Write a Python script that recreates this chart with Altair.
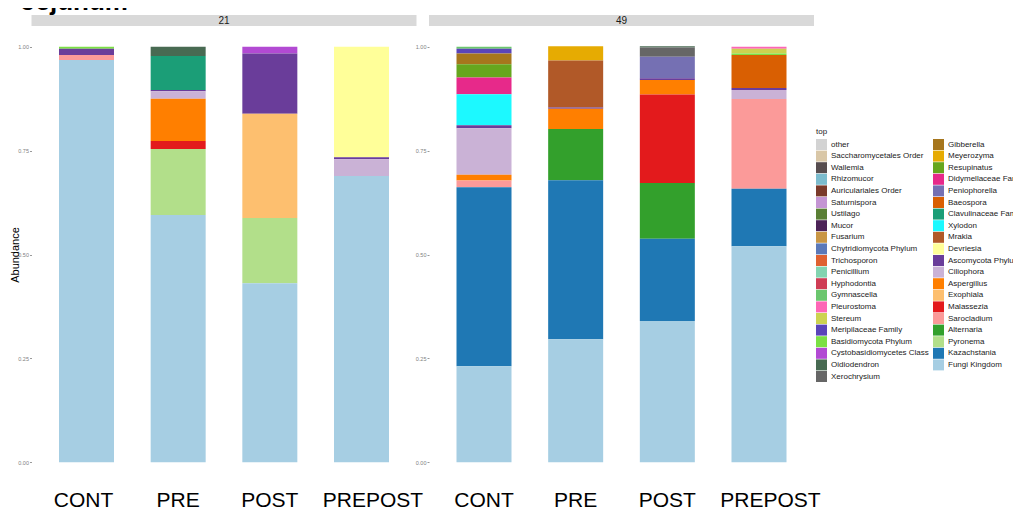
import altair as alt
import pandas as pd

# ---- legend (ggplot order: column 1 then column 2) ----
legend_col1 = ["other", "Saccharomycetales Order", "Wallemia", "Rhizomucor",
               "Auriculariales Order", "Saturnispora", "Ustilago", "Mucor",
               "Fusarium", "Chytridiomycota Phylum", "Trichosporon", "Penicillium",
               "Hyphodontia", "Gymnascella", "Pleurostoma", "Stereum",
               "Meripilaceae Family", "Basidiomycota Phylum",
               "Cystobasidiomycetes Class", "Oidiodendron", "Xerochrysium"]
colors_col1 = ["#D3D3D3", "#D9C7A7", "#574D4F", "#7CBCCE", "#7A3A2A", "#C495D3",
               "#5A7F35", "#4C2357", "#C99645", "#5B79B9", "#DF6131", "#82D4B0",
               "#CF3D55", "#6BC66E", "#FD66B6", "#CCD350", "#5A44B9", "#7BE044",
               "#B24AD3", "#486A52", "#666666"]
legend_col2 = ["Gibberella", "Meyerozyma", "Resupinatus", "Didymellaceae Family",
               "Peniophorella", "Baeospora", "Clavulinaceae Family", "Xylodon",
               "Mrakia", "Devriesia", "Ascomycota Phylum", "Ciliophora",
               "Aspergillus", "Exophiala", "Malassezia", "Sarocladium",
               "Alternaria", "Pyronema", "Kazachstania", "Fungi Kingdom"]
colors_col2 = ["#A6761D", "#E6AB02", "#66A61E", "#E7298A", "#7570B3", "#D95F02",
               "#1B9E77", "#1CF9FF", "#B15928", "#FFFF99", "#6A3D9A", "#CAB2D6",
               "#FF7F00", "#FDBF6F", "#E31A1C", "#FB9A99", "#33A02C", "#B2DF8A",
               "#1F78B4", "#A6CEE3"]

treatments = ["CONT", "PRE", "POST", "PREPOST"]
panels = ["21", "49"]

# ---- values ----
taxa_21_CONT = ["Basidiomycota Phylum", "Ascomycota Phylum", "Sarocladium", "Fungi Kingdom"]
vals_21_CONT = [0.005, 0.015, 0.012, 0.968]

taxa_21_PRE = ["Oidiodendron", "Clavulinaceae Family", "Ascomycota Phylum", "Ciliophora",
               "Aspergillus", "Malassezia", "Pyronema", "Fungi Kingdom"]
vals_21_PRE = [0.022, 0.082, 0.003, 0.018, 0.102, 0.019, 0.159, 0.595]

taxa_21_POST = ["Cystobasidiomycetes Class", "Ascomycota Phylum", "Exophiala",
                "Pyronema", "Fungi Kingdom"]
vals_21_POST = [0.016, 0.145, 0.251, 0.157, 0.431]

taxa_21_PREPOST = ["Devriesia", "Ascomycota Phylum", "Ciliophora", "Fungi Kingdom"]
vals_21_PREPOST = [0.266, 0.005, 0.040, 0.689]

taxa_49_CONT = ["Gymnascella", "Meripilaceae Family", "Gibberella", "Resupinatus",
                "Didymellaceae Family", "Xylodon", "Ascomycota Phylum", "Ciliophora",
                "Aspergillus", "Sarocladium", "Kazachstania", "Fungi Kingdom"]
vals_49_CONT = [0.005, 0.011, 0.026, 0.032, 0.040, 0.075, 0.007, 0.112,
                0.014, 0.016, 0.431, 0.231]

taxa_49_PRE = ["Meyerozyma", "Mrakia", "Ascomycota Phylum", "Aspergillus",
               "Alternaria", "Kazachstania", "Fungi Kingdom"]
vals_49_PRE = [0.034, 0.113, 0.003, 0.049, 0.123, 0.383, 0.296]

taxa_49_POST = ["Oidiodendron", "Xerochrysium", "Peniophorella", "Ascomycota Phylum",
                "Aspergillus", "Malassezia", "Alternaria", "Kazachstania", "Fungi Kingdom"]
vals_49_POST = [0.003, 0.022, 0.052, 0.004, 0.035, 0.213, 0.134, 0.198, 0.340]

taxa_49_PREPOST = ["Pleurostoma", "Stereum", "Basidiomycota Phylum", "Baeospora",
                   "Ascomycota Phylum", "Ciliophora", "Sarocladium", "Kazachstania",
                   "Fungi Kingdom"]
vals_49_PREPOST = [0.005, 0.011, 0.004, 0.079, 0.005, 0.022, 0.216, 0.138, 0.520]

samples = {
    ("21", "CONT"): (taxa_21_CONT, vals_21_CONT),
    ("21", "PRE"): (taxa_21_PRE, vals_21_PRE),
    ("21", "POST"): (taxa_21_POST, vals_21_POST),
    ("21", "PREPOST"): (taxa_21_PREPOST, vals_21_PREPOST),
    ("49", "CONT"): (taxa_49_CONT, vals_49_CONT),
    ("49", "PRE"): (taxa_49_PRE, vals_49_PRE),
    ("49", "POST"): (taxa_49_POST, vals_49_POST),
    ("49", "PREPOST"): (taxa_49_PREPOST, vals_49_PREPOST),
}

all_taxa = legend_col1 + legend_col2
all_colors = colors_col1 + colors_col2
n_taxa = len(all_taxa)
rows = []
for (p, t), (tx, vs) in samples.items():
    for name, v in zip(tx, vs):
        rows.append({"panel": p, "treatment": t, "taxon": name, "value": v,
                     "ord": n_taxa - all_taxa.index(name)})
df = pd.DataFrame(rows)

W, H = 385, 457
FONT = "Liberation Sans"


def panel(pid, first):
    d = df[df["panel"] == pid]
    ytitle = "Abundance" if first else None
    cont_shift = -3 if first else 0
    bars = alt.Chart(d).mark_bar(opacity=1).encode(
        x=alt.X("treatment:N", sort=treatments, title=None,
                scale=alt.Scale(paddingInner=0.4, paddingOuter=0.3),
                axis=alt.Axis(labelAngle=0, labelFontSize=21, ticks=False, tickSize=0,
                              domain=False, labelPadding=6, labelColor="#000000",
                              labelFont=FONT,
                              labelOffset={"condition": [
                                  {"test": "datum.value === 'PREPOST'", "value": 11.5},
                                  {"test": "datum.value === 'CONT'", "value": cont_shift}],
                                  "value": 0})),
        y=alt.Y("value:Q", stack="zero", title=ytitle,
                scale=alt.Scale(domain=[-0.05, 1.05], nice=False, zero=False),
                axis=alt.Axis(values=[0, 0.25, 0.5, 0.75, 1.0], format=".2f",
                              grid=False, domain=False, tickSize=2,
                              tickColor="#9a9a9a", labelFontSize=5.5,
                              labelColor="#7f7f7f", labelPadding=1,
                              labelFont=FONT, titleFont=FONT, titleFontSize=11,
                              titleFontWeight="normal", titleColor="#000000",
                              titlePadding=-2.5)),
        color=alt.Color("taxon:N", title="top",
                        scale=alt.Scale(domain=all_taxa, range=all_colors),
                        legend=alt.Legend(orient="none", legendX=784.5, legendY=102,
                                          columns=2, symbolType="square",
                                          symbolSize=121, symbolStrokeWidth=0,
                                          symbolOpacity=1, symbolLimit=50,
                                          labelFontSize=8,
                                          titleFontSize=8, labelOffset=4,
                                          rowPadding=0.6, columnPadding=4,
                                          titlePadding=3, labelColor="#1a1a1a",
                                          titleColor="#1a1a1a",
                                          titleFontWeight="normal",
                                          labelFont=FONT, titleFont=FONT,
                                          labelLimit=200)),
        order=alt.Order("ord:Q", sort="ascending"),
    )
    strip_df = pd.DataFrame({"panel": [pid]})
    strip = alt.Chart(strip_df).mark_rect(color="#d9d9d9").encode(
        x=alt.value(0), x2=alt.value(W), y=alt.value(-11), y2=alt.value(0))
    label = alt.Chart(strip_df).mark_text(fontSize=10, color="#1a1a1a", font=FONT,
                                          baseline="middle").encode(
        text="panel:N", x=alt.value(W / 2), y=alt.value(-5.5))
    return alt.layer(bars, strip, label).properties(width=W, height=H)


chart = alt.hconcat(panel("21", True), panel("49", False),
                    spacing=12.5, bounds="flush").resolve_scale(
    color="shared"
).properties(
    title=alt.TitleParams("Jejunum", fontSize=26, fontWeight="bold", anchor="start",
                          frame="group", dx=-10.5, offset=-26, baseline="bottom",
                          color="#000000", font=FONT),
    padding={"top": -20, "left": 0.5, "right": -15, "bottom": -2},
).configure_view(stroke="transparent")

chart.save("out.html", embed_options={"renderer": "svg", "actions": False})
